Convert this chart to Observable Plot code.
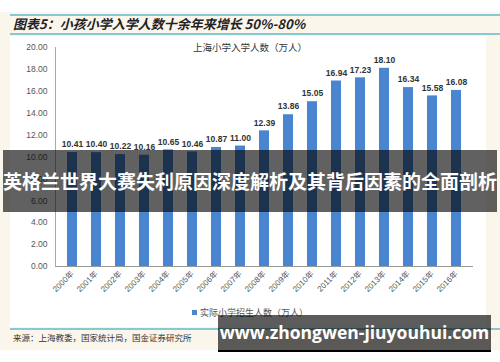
<!DOCTYPE html>
<html><head><meta charset="utf-8">
<script src="https://cdn.jsdelivr.net/npm/d3@7"></script>
<script src="https://cdn.jsdelivr.net/npm/@observablehq/plot@0.6"></script>
<style>
html,body{margin:0;padding:0;background:#fff;}
#root{position:relative;width:500px;height:362px;overflow:hidden;font-family:"Liberation Sans","Noto Sans CJK SC",sans-serif;}
.abs{position:absolute;}
</style></head>
<body>
<div id="root">
  <div class="abs" style="left:0;top:12px;width:500px;height:338px;background:#fbf6ec;"></div>
  <div class="abs" style="left:10px;top:14px;width:490px;height:1.5px;background:#86c9d2;"></div>
  <div class="abs" id="title" style="left:13px;top:15px;font-family:'Noto Sans CJK SC';font-style:italic;font-weight:bold;font-size:13px;color:#222;line-height:18px;white-space:nowrap;"></div>
  <div class="abs" style="left:10px;top:33px;width:490px;height:1.5px;background:#86c9d2;"></div>
  <div class="abs" style="left:10px;top:36px;width:476px;height:291px;background:#fff;"></div>
  <div class="abs" style="left:10px;top:328px;width:490px;height:1.5px;background:#86c9d2;"></div>
  <div class="abs" id="source" style="left:13px;top:331px;font-family:'Noto Sans CJK SC';font-size:8.5px;color:#333;line-height:12px;white-space:nowrap;"></div>
  <div class="abs" id="chart" style="left:0;top:0;"></div>
  <div class="abs" id="subtitle" style="left:0;top:41px;width:500px;text-align:center;font-family:'Noto Sans CJK SC';font-size:9.5px;color:#333;line-height:13px;"></div>
  <div class="abs" id="legend" style="left:0;top:306px;width:500px;text-align:center;font-family:'Noto Sans CJK SC';font-size:9px;color:#555;line-height:13px;"></div>
  <div class="abs" style="left:3px;top:150px;width:494px;height:62px;background:rgba(0,0,0,0.62);"></div>
  <div class="abs" id="banner" style="left:0;top:150px;width:500px;height:62px;line-height:62px;text-align:center;font-family:'Noto Sans CJK SC';font-weight:bold;font-size:19px;color:#fff;white-space:nowrap;"></div>
  <div class="abs" style="left:218px;top:315px;width:273px;height:35px;background:rgba(0,0,0,0.64);border-bottom:2px solid #000;"></div>
  <div class="abs" id="url" style="left:218px;top:315px;width:273px;height:35px;line-height:35px;text-align:center;font-family:'Open Sans';font-weight:bold;font-size:17.5px;color:#fff;white-space:nowrap;"></div>
</div>
<script>
const years = ["2000年","2001年","2002年","2003年","2004年","2005年","2006年","2007年","2008年","2009年","2010年","2011年","2012年","2013年","2014年","2015年","2016年"];
const values = [10.41,10.40,10.22,10.16,10.65,10.46,10.87,11.00,12.39,13.86,15.05,16.94,17.23,18.10,16.34,15.58,16.08];
const yTicks = [0,2,4,6,8,10,12,14,16,18,20];
const titleText = "图表5：小孩小学入学人数十余年来增长 50%-80%";
const subtitleText = "上海小学入学人数（万人）";
const legendText = "实际小学招生人数（万人）";
const sourceText = "来源：上海教委，国家统计局，国金证券研究所";
const bannerText = "英格兰世界大赛失利原因深度解析及其背后因素的全面剖析";
const urlText = "www.zhongwen-jiuyouhui.com";
const barColor = "#4a86d0";

const data = years.map((y,i)=>({year:y, value:values[i]}));

document.getElementById("title").textContent = titleText;
document.getElementById("subtitle").textContent = subtitleText;
document.getElementById("source").textContent = sourceText;
document.getElementById("banner").textContent = bannerText;
document.getElementById("url").textContent = urlText;
document.getElementById("legend").innerHTML = `<span style="display:inline-block;width:5px;height:5px;background:${barColor};margin-right:3px;vertical-align:1px;"></span>` + legendText;

const chart = Plot.plot({
  width: 500,
  height: 362,
  marginLeft: 55,
  marginRight: 27,
  marginTop: 47,
  marginBottom: 96,
  style: {background: "transparent", fontFamily: "'Liberation Sans', 'Noto Sans CJK SC', sans-serif"},
  x: {domain: years, paddingInner: 0.6, paddingOuter: 0.3},
  y: {domain: [0, 20]},
  marks: [
    Plot.frame({anchor: "left", stroke: "#aaa"}),
    Plot.barY(data, {x: "year", y: "value", fill: barColor}),
    Plot.ruleY([0], {stroke: "#999", strokeWidth: 1.2}),
    Plot.text(data, {x: "year", y: "value", text: d => d.value.toFixed(2), dy: -8, fontWeight: "bold", fontSize: 8.5, fill: "#333"}),
    Plot.axisY({ticks: yTicks, tickFormat: d => d.toFixed(2), tickSize: 0, tickPadding: 8, fontSize: 8.5, fill: "#555", label: null}),
    Plot.axisX({tickRotate: -45, tickSize: 0, tickPadding: 6, fontSize: 8, fill: "#555", label: null})
  ]
});
document.getElementById("chart").appendChild(chart);
</script>
</body></html>
